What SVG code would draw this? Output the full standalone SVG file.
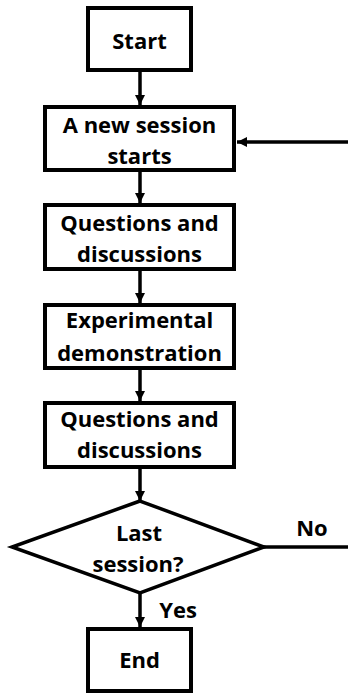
<svg xmlns="http://www.w3.org/2000/svg" width="348" height="694" viewBox="0 0 348 694">
<style>
.box{fill:#fff;stroke:#000;stroke-width:4}
.dia{fill:#fff;stroke:#000;stroke-width:3.5}
.t{font-family:"Open Sans","Liberation Sans",sans-serif;font-weight:bold;font-size:22px;fill:#000;text-anchor:middle}
.c{stroke:#000;stroke-width:3.5;fill:none}
</style>
<defs>
<marker id="ah" markerUnits="userSpaceOnUse" viewBox="0 0 10 10" refX="10" refY="5" markerWidth="10" markerHeight="10" orient="auto">
<path d="M0,0 L10,5 L0,10 z" fill="#000"/>
</marker>
</defs>
<rect width="348" height="694" fill="#fff"/>
<g id="connectors">
<line class="c" x1="140" y1="72" x2="140" y2="105" marker-end="url(#ah)"/>
<line class="c" x1="140" y1="172" x2="140" y2="203" marker-end="url(#ah)"/>
<line class="c" x1="140" y1="271" x2="140" y2="303" marker-end="url(#ah)"/>
<line class="c" x1="140" y1="370" x2="140" y2="401" marker-end="url(#ah)"/>
<line class="c" x1="140" y1="469" x2="140" y2="501" marker-end="url(#ah)"/>
<line class="c" x1="140" y1="593" x2="140" y2="627" marker-end="url(#ah)"/>
<line class="c" x1="348" y1="142" x2="237" y2="142" marker-end="url(#ah)"/>
<line class="c" x1="264" y1="547" x2="348" y2="547"/>
<text class="t" x="312" y="536">No</text>
<text class="t" x="178" y="618">Yes</text>
</g>
<g id="start">
<rect class="box" x="88" y="8" width="103" height="62"/>
<text class="t" x="139.5" y="49">Start</text>
</g>
<g id="new-session">
<rect class="box" x="45" y="107" width="189" height="63"/>
<text class="t" x="139.5" y="133">A new session</text>
<text class="t" x="139.5" y="164">starts</text>
</g>
<g id="questions1">
<rect class="box" x="45" y="205" width="189" height="64"/>
<text class="t" x="139.5" y="231">Questions and</text>
<text class="t" x="139.5" y="262">discussions</text>
</g>
<g id="experiment">
<rect class="box" x="45" y="305" width="189" height="63"/>
<text class="t" x="139.5" y="328">Experimental</text>
<text class="t" x="139.5" y="361">demonstration</text>
</g>
<g id="questions2">
<rect class="box" x="45" y="403" width="189" height="64"/>
<text class="t" x="139.5" y="427">Questions and</text>
<text class="t" x="139.5" y="458">discussions</text>
</g>
<g id="decision">
<polygon class="dia" points="140,501 12,547 140,593 264,547"/>
<text class="t" x="139" y="541">Last</text>
<text class="t" x="138" y="572">session?</text>
</g>
<g id="end">
<rect class="box" x="88" y="629" width="103" height="62"/>
<text class="t" x="139.5" y="668">End</text>
</g>
</svg>
